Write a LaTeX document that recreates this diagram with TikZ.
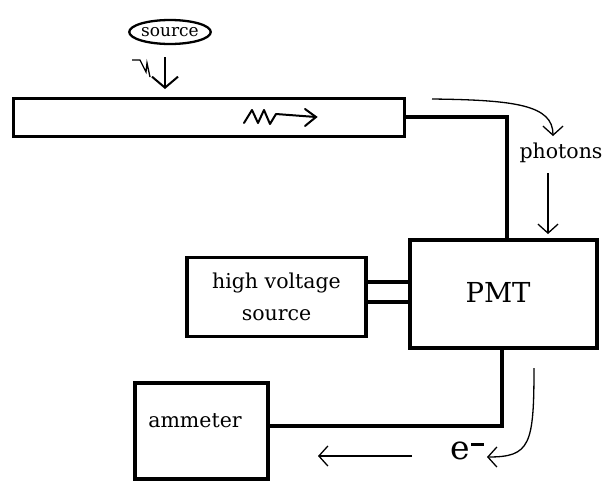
\documentclass[tikz,border=0pt]{standalone}
\usepackage{fontspec}
\setmainfont{DejaVu Serif}
\usetikzlibrary{arrows.meta,shapes.geometric}
\begin{document}
\begin{tikzpicture}[x=1pt,y=-1pt,
  box/.style={draw,line width=3.5pt,inner sep=0pt},
  wire/.style={line width=3.5pt},
  thin/.style={line width=1.3pt,-{Straight Barb[length=9pt,width=20pt,line width=1.3pt]}},
  lbl/.style={font=\fontsize{20.5}{32}\selectfont,inner sep=0pt}]
\useasboundingbox (0,0) rectangle (603,483);
% nodes
\node[draw,ellipse,line width=2.3pt,minimum width=80pt,minimum height=24pt,inner sep=0pt,font=\fontsize{17}{20}\selectfont] (src) at (170,32) {source};
\node[box,line width=3pt,minimum width=391pt,minimum height=38pt] (tube) at (208.5,117) {};
\node[box,minimum width=187pt,minimum height=108pt] (pmt) at (503.5,294) {};
\node[inner sep=0pt,font=\fontsize{27.5}{30}\selectfont] (pmtt) at (498,292) {PMT};
\node[box,minimum width=179pt,minimum height=79pt,align=center,lbl] (hv) at (276.5,297) {high voltage\\source};
\node[box,minimum width=133pt,minimum height=96pt] (amm) at (201.5,431) {};
\node[lbl] (ammt) at (195,421) {ammeter};
\node[lbl] (ph) at (561,153) {photons};
\node[inner sep=0pt,font=\fontsize{33}{36}\selectfont] (el) at (460,451) {e\rlap{\hspace{0.04em}\raisebox{0.42em}{\rule{0.4em}{0.09em}}}\hspace{0.45em}};
% coordinates
\coordinate (sa) at (165,57);
\coordinate (sb) at (165,89);
\coordinate (pa) at (432,99);
\coordinate (pb) at (553,136);
\coordinate (qa) at (548,173);
\coordinate (qb) at (548,234);
\coordinate (ea) at (534,368);
\coordinate (eb) at (487,457);
\coordinate (la) at (412,456);
\coordinate (lb) at (318,456);
\coordinate (h1) at ([yshift=15pt]hv.east);
\coordinate (h2) at ([yshift=-5pt]hv.east);
\coordinate (pt) at ([xshift=3.5pt]pmt.north);
\coordinate (pbm) at ([xshift=-1.5pt]pmt.south);
\coordinate (ae) at ([yshift=5pt]amm.east);
% wires
\draw[wire] (tube.east) -| (pt);
\draw[wire] (h1) -- (h1 -| pmt.west);
\draw[wire] (h2) -- (h2 -| pmt.west);
\draw[wire] (pbm) |- (ae);
% arrows
\draw[thin,line width=2pt,-{Straight Barb[length=11pt,width=26pt,line width=2pt]}] (sa) -- (sb);
\draw[line width=1.3pt] (132,60) -- (140,60) -- (146,72) -- (147,63) -- (150,77);
\draw[thin] (pa) .. controls (515,100) and (553,105) .. (pb);
\draw[thin] (qa) -- (qb);
\draw[thin] (ea) .. controls (534,445) and (530,457) .. (eb);
\draw[thin] (la) -- (lb);
% zigzag
\draw[line width=2pt,line join=round,line cap=round] (244,123) -- (252,110) -- (258,123) -- (264,110) -- (270,124) -- (276,114) -- (316,117);
\draw[line width=2pt,line cap=round] (305,109) -- (316,117) -- (305,126);
\end{tikzpicture}
\end{document}
